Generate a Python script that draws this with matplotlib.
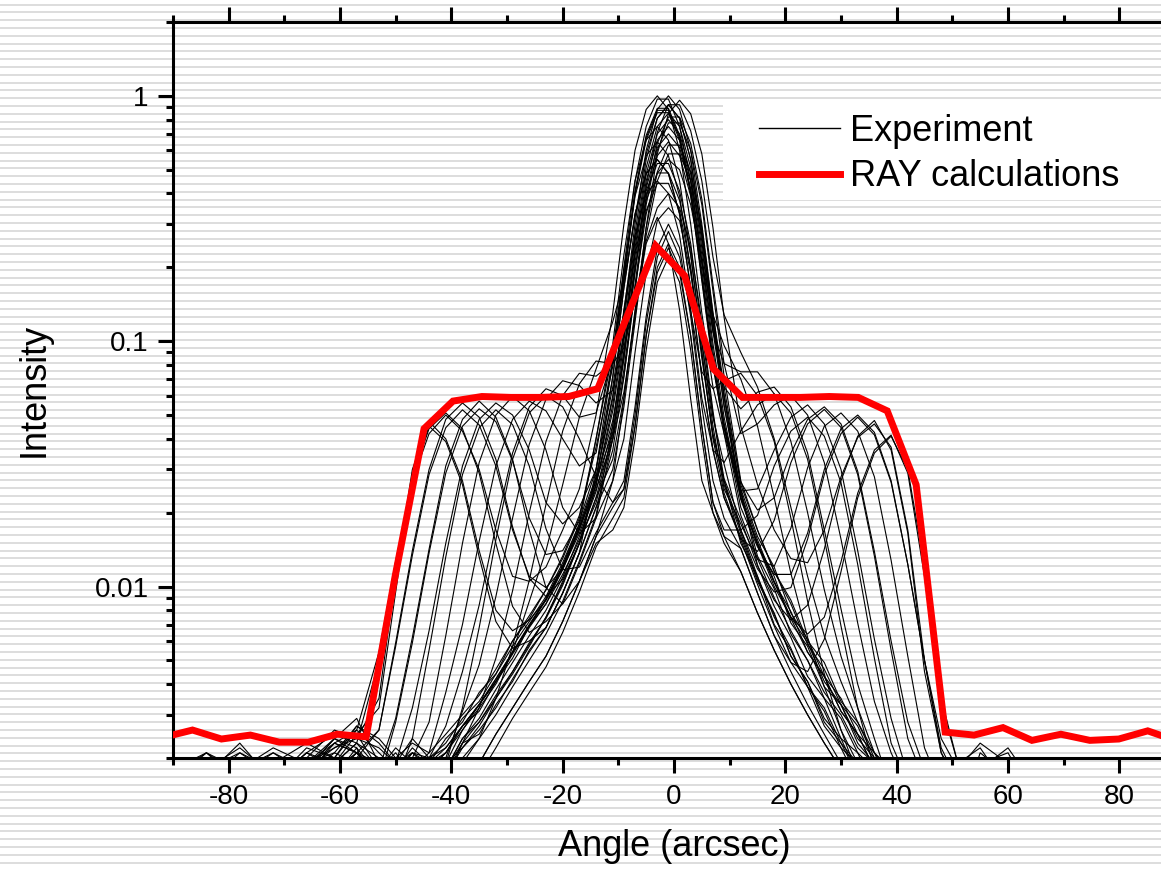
import matplotlib
matplotlib.use("Agg")
import matplotlib.pyplot as plt
import numpy as np
from matplotlib.patches import Rectangle
from matplotlib.lines import Line2D
from matplotlib.ticker import MultipleLocator, LogLocator, FuncFormatter, NullFormatter

plt.rcParams['font.family'] = 'Liberation Sans'
plt.rcParams['axes.unicode_minus'] = False

# angle grid of the measured rocking curves (arcsec)
angle = [-90, -84, -78, -72, -66, -61, -57,
         -53, -50, -47, -44, -41, -38, -35, -32, -29, -26, -23, -20, -17, -14,
         -11, -9, -7, -5, -3, -1, 1, 3, 5, 7, 9,
         12, 15, 18, 21, 24, 27, 30, 33, 36, 39, 42, 45, 48, 51,
         55, 60, 66, 75, 90]

# measured curves, side peak on the left
scan_01 = [0.0017, 0.0021, 0.0016, 0.0019, 0.0018, 0.0022, 0.0024,
           0.0035, 0.011, 0.030, 0.047, 0.040, 0.027, 0.014, 0.0080, 0.0066, 0.0073, 0.0088, 0.0117, 0.017, 0.026,
           0.055, 0.11, 0.255, 0.51, 0.75, 0.85, 0.75, 0.51, 0.255, 0.11, 0.055,
           0.023, 0.015, 0.0104, 0.0074, 0.0054, 0.0043, 0.0031, 0.0025, 0.0018, 0.0014, 0.0016, 0.0012, 0.0011, 0.0010,
           0.0010, 0.0010, 0.0010, 0.0010, 0.0010]
scan_02 = [0.0015, 0.0018, 0.0022, 0.0017, 0.0020, 0.0019, 0.0023,
           0.0050, 0.012, 0.028, 0.044, 0.051, 0.044, 0.029, 0.015, 0.0083, 0.0065, 0.0072, 0.0085, 0.0124, 0.019,
           0.040, 0.090, 0.20, 0.34, 0.44, 0.44, 0.34, 0.20, 0.090, 0.041, 0.027,
           0.017, 0.011, 0.0075, 0.0056, 0.0039, 0.0031, 0.0022, 0.0019, 0.0016, 0.0017, 0.0013, 0.0011, 0.0010, 0.0010,
           0.0010, 0.0010, 0.0010, 0.0010, 0.0010]
scan_03 = [0.0019, 0.0016, 0.0018, 0.0021, 0.0017, 0.0023, 0.0026,
           0.0054, 0.0127, 0.027, 0.042, 0.050, 0.043, 0.030, 0.017, 0.011, 0.0105, 0.012, 0.017, 0.025, 0.050,
           0.13, 0.30, 0.60, 0.88, 1.0, 0.88, 0.60, 0.30, 0.13, 0.065, 0.042,
           0.0195, 0.013, 0.0090, 0.0066, 0.0050, 0.0037, 0.0030, 0.0022, 0.0019, 0.0014, 0.0015, 0.0012, 0.0010, 0.0010,
           0.0010, 0.0010, 0.0010, 0.0010, 0.0010]
scan_04 = [0.0016, 0.0019, 0.0017, 0.0016, 0.0021, 0.0018, 0.0020,
           0.0026, 0.0059, 0.014, 0.030, 0.048, 0.056, 0.049, 0.033, 0.0175, 0.0108, 0.0091, 0.0107, 0.015, 0.023,
           0.033, 0.059, 0.13, 0.29, 0.49, 0.63, 0.63, 0.49, 0.29, 0.13, 0.059,
           0.024, 0.0133, 0.0098, 0.0064, 0.0050, 0.0035, 0.0029, 0.0021, 0.0018, 0.0014, 0.0015, 0.0011, 0.0010, 0.0010,
           0.0010, 0.0010, 0.0010, 0.0010, 0.0010]
scan_05 = [0.0014, 0.0016, 0.0015, 0.0018, 0.0016, 0.0017, 0.0019,
           0.0018, 0.0029, 0.0062, 0.0142, 0.031, 0.048, 0.057, 0.049, 0.033, 0.017, 0.0099, 0.0085, 0.0105, 0.015,
           0.017, 0.021, 0.040, 0.092, 0.174, 0.22, 0.174, 0.092, 0.040, 0.020, 0.015,
           0.0115, 0.0078, 0.0055, 0.0040, 0.0030, 0.0023, 0.0018, 0.0015, 0.0012, 0.0010, 0.0010, 0.0010, 0.0010, 0.0010,
           0.0010, 0.0010, 0.0010, 0.0010, 0.0010]
scan_06 = [0.0018, 0.0015, 0.0020, 0.0017, 0.0019, 0.0024, 0.0021,
           0.0016, 0.0028, 0.0059, 0.0137, 0.029, 0.045, 0.053, 0.047, 0.0325, 0.019, 0.0135, 0.014, 0.0185, 0.030,
           0.083, 0.184, 0.41, 0.69, 0.89, 0.89, 0.69, 0.41, 0.184, 0.083, 0.046,
           0.025, 0.016, 0.012, 0.0078, 0.0061, 0.0043, 0.0035, 0.0025, 0.0021, 0.0015, 0.0017, 0.0013, 0.0011, 0.0010,
           0.0010, 0.0010, 0.0010, 0.0010, 0.0010]
scan_07 = [0.0016, 0.0018, 0.0015, 0.0020, 0.0018, 0.0017, 0.0022,
           0.0013, 0.0019, 0.0032, 0.0066, 0.0150, 0.031, 0.048, 0.056, 0.050, 0.036, 0.022, 0.018, 0.021, 0.030,
           0.065, 0.13, 0.30, 0.60, 0.88, 1.0, 0.88, 0.60, 0.30, 0.13, 0.065,
           0.026, 0.017, 0.0115, 0.0088, 0.0060, 0.0049, 0.0034, 0.0028, 0.0020, 0.0017, 0.0013, 0.0015, 0.0011, 0.0010,
           0.0010, 0.0010, 0.0010, 0.0010, 0.0010]
scan_08 = [0.0015, 0.0017, 0.0019, 0.0016, 0.0015, 0.0020, 0.0018,
           0.0017, 0.0018, 0.0020, 0.0028, 0.0063, 0.015, 0.032, 0.050, 0.0595, 0.052, 0.036, 0.021, 0.0164, 0.019,
           0.027, 0.040, 0.090, 0.19, 0.31, 0.35, 0.31, 0.19, 0.090, 0.040, 0.024,
           0.0155, 0.0102, 0.0069, 0.0049, 0.0039, 0.0027, 0.0022, 0.0016, 0.0014, 0.0011, 0.0010, 0.0010, 0.0010, 0.0010,
           0.0010, 0.0010, 0.0010, 0.0010, 0.0010]
scan_09 = [0.0017, 0.0015, 0.0018, 0.0016, 0.0019, 0.0017, 0.0021,
           0.0016, 0.0015, 0.0018, 0.0021, 0.0037, 0.0070, 0.0153, 0.031, 0.048, 0.057, 0.052, 0.040, 0.031, 0.035,
           0.085, 0.195, 0.39, 0.57, 0.65, 0.57, 0.39, 0.195, 0.085, 0.042, 0.027,
           0.015, 0.011, 0.0070, 0.0055, 0.0039, 0.0032, 0.0023, 0.0019, 0.0014, 0.0016, 0.0012, 0.0010, 0.0010, 0.0010,
           0.0010, 0.0010, 0.0010, 0.0010, 0.0010]
scan_10 = [0.0014, 0.0016, 0.0015, 0.0014, 0.0017, 0.0016, 0.0015,
           0.0014, 0.0015, 0.0016, 0.0017, 0.0019, 0.0032, 0.0068, 0.0155, 0.033, 0.051, 0.060, 0.054, 0.040, 0.028,
           0.022, 0.025, 0.045, 0.105, 0.20, 0.25, 0.20, 0.105, 0.045, 0.022, 0.016,
           0.0115, 0.0078, 0.0055, 0.0040, 0.0030, 0.0023, 0.0018, 0.0014, 0.0012, 0.0010, 0.0010, 0.0010, 0.0010, 0.0010,
           0.0010, 0.0010, 0.0010, 0.0010, 0.0010]
scan_11 = [0.0015, 0.0014, 0.0017, 0.0016, 0.0014, 0.0018, 0.0017,
           0.0015, 0.0013, 0.0016, 0.0018, 0.0020, 0.0031, 0.0048, 0.0091, 0.019, 0.038, 0.058, 0.069, 0.066, 0.056,
           0.063, 0.105, 0.229, 0.45, 0.66, 0.75, 0.66, 0.45, 0.225, 0.0975, 0.049,
           0.0226, 0.0148, 0.011, 0.0071, 0.0057, 0.0039, 0.0033, 0.0023, 0.0019, 0.0014, 0.0012, 0.0013, 0.0010, 0.0010,
           0.0010, 0.0010, 0.0010, 0.0010, 0.0010]
scan_12 = [0.0014, 0.0015, 0.0014, 0.0016, 0.0015, 0.0014, 0.0016,
           0.0013, 0.0014, 0.0013, 0.0015, 0.0016, 0.0023, 0.0032, 0.0051, 0.0096, 0.020, 0.039, 0.060, 0.074, 0.072,
           0.082, 0.13, 0.26, 0.41, 0.53, 0.53, 0.41, 0.25, 0.11, 0.050, 0.0275,
           0.0187, 0.0122, 0.0083, 0.0062, 0.0043, 0.0035, 0.0024, 0.0021, 0.0015, 0.0012, 0.0011, 0.0010, 0.0010, 0.0010,
           0.0010, 0.0010, 0.0010, 0.0010, 0.0010]
scan_13 = [0.0013, 0.0014, 0.0013, 0.0015, 0.0014, 0.0013, 0.0015,
           0.0012, 0.0013, 0.0012, 0.0014, 0.0015, 0.0019, 0.0024, 0.0035, 0.0057, 0.0106, 0.0216, 0.043, 0.067, 0.083,
           0.081, 0.094, 0.147, 0.256, 0.35, 0.40, 0.35, 0.24, 0.12, 0.052, 0.026,
           0.0165, 0.0107, 0.0078, 0.0052, 0.0041, 0.0028, 0.0023, 0.0017, 0.0013, 0.0011, 0.0010, 0.0010, 0.0010, 0.0010,
           0.0010, 0.0010, 0.0010, 0.0010, 0.0010]
scan_14 = [0.0019, 0.0017, 0.0023, 0.0016, 0.0021, 0.0019, 0.0025,
           0.0032, 0.0095, 0.028, 0.045, 0.039, 0.026, 0.0132, 0.0072, 0.0056, 0.0060, 0.0068, 0.0094, 0.0137, 0.030,
           0.0715, 0.165, 0.33, 0.48, 0.55, 0.48, 0.33, 0.165, 0.0715, 0.036, 0.023,
           0.016, 0.0105, 0.0077, 0.0052, 0.0041, 0.0029, 0.0024, 0.0017, 0.0014, 0.0015, 0.0011, 0.0010, 0.0010, 0.0010,
           0.0010, 0.0010, 0.0010, 0.0010, 0.0010]
scan_15 = [0.0016, 0.0014, 0.0017, 0.0015, 0.0016, 0.0018, 0.0017,
           0.0012, 0.0013, 0.0014, 0.0016, 0.0019, 0.0026, 0.0032, 0.0040, 0.0054, 0.0087, 0.014, 0.026, 0.049, 0.077,
           0.12, 0.176, 0.32, 0.58, 0.81, 0.92, 0.81, 0.55, 0.276, 0.12, 0.060,
           0.023, 0.015, 0.0104, 0.0079, 0.0054, 0.0043, 0.0031, 0.0025, 0.0018, 0.0014, 0.0016, 0.0012, 0.0011, 0.0010,
           0.0010, 0.0010, 0.0010, 0.0010, 0.0010]
scan_30 = [0.0017, 0.0015, 0.0018, 0.0016, 0.0019, 0.0017, 0.0021,
           0.0026, 0.0057, 0.0134, 0.0286, 0.0444, 0.0525, 0.0456, 0.031, 0.017, 0.011, 0.0099, 0.0118, 0.0165, 0.025,
           0.040, 0.072, 0.16, 0.36, 0.60, 0.776, 0.776, 0.60, 0.36, 0.16, 0.072,
           0.027, 0.017, 0.0115, 0.0085, 0.0058, 0.0046, 0.0033, 0.0027, 0.0019, 0.0015, 0.0017, 0.0013, 0.0011, 0.0010,
           0.0010, 0.0010, 0.0010, 0.0010, 0.0010]
scan_31 = [0.0018, 0.0016, 0.0015, 0.0019, 0.0017, 0.0020, 0.0018,
           0.0015, 0.0014, 0.0016, 0.0020, 0.0027, 0.0045, 0.0084, 0.0176, 0.035, 0.054, 0.064, 0.060, 0.049, 0.051,
           0.086, 0.18, 0.405, 0.675, 0.873, 0.873, 0.675, 0.405, 0.18, 0.081, 0.045,
           0.024, 0.0155, 0.0105, 0.0075, 0.0059, 0.0041, 0.0033, 0.0024, 0.0020, 0.0016, 0.0013, 0.0012, 0.0010, 0.0010,
           0.0010, 0.0010, 0.0010, 0.0010, 0.0010]
scan_35 = [0.0013, 0.0015, 0.0014, 0.0016, 0.0015, 0.0014, 0.0016,
           0.0015, 0.0016, 0.0024, 0.0055, 0.0132, 0.0286, 0.0444, 0.0525, 0.0457, 0.031, 0.0172, 0.0117, 0.012, 0.0166,
           0.022, 0.027, 0.054, 0.126, 0.24, 0.30, 0.24, 0.126, 0.054, 0.027, 0.019,
           0.0143, 0.0094, 0.0063, 0.0045, 0.0033, 0.0025, 0.0019, 0.0014, 0.0011, 0.0010, 0.0010, 0.0010, 0.0010, 0.0010,
           0.0010, 0.0010, 0.0010, 0.0010, 0.0010]

# measured curves, side peak on the right
scan_16 = [0.0016, 0.0019, 0.0017, 0.0021, 0.0018, 0.0024, 0.0022,
           0.0017, 0.0019, 0.0016, 0.0018, 0.0017, 0.0023, 0.0025, 0.0033, 0.0041, 0.0055, 0.0068, 0.0094, 0.0137, 0.021,
           0.036, 0.0715, 0.165, 0.33, 0.484, 0.55, 0.50, 0.36, 0.21, 0.128, 0.096,
           0.070, 0.045, 0.023, 0.0113, 0.0062, 0.0039, 0.0026, 0.0019, 0.0016, 0.0014, 0.0012, 0.0011, 0.0010, 0.0010,
           0.0010, 0.0010, 0.0010, 0.0010, 0.0010]
scan_17 = [0.0014, 0.0016, 0.0015, 0.0017, 0.0016, 0.0018, 0.0017,
           0.0012, 0.0013, 0.0012, 0.0014, 0.0013, 0.0016, 0.0019, 0.0025, 0.0032, 0.0041, 0.0052, 0.0072, 0.0105, 0.016,
           0.021, 0.025, 0.050, 0.118, 0.22, 0.28, 0.22, 0.132, 0.075, 0.064, 0.069,
           0.074, 0.060, 0.039, 0.019, 0.0087, 0.0044, 0.0026, 0.0017, 0.0015, 0.0012, 0.0010, 0.0010, 0.0010, 0.0010,
           0.0010, 0.0010, 0.0010, 0.0010, 0.0010]
scan_18 = [0.0017, 0.0015, 0.0019, 0.0016, 0.0022, 0.0020, 0.0026,
           0.0021, 0.0018, 0.0022, 0.0019, 0.0024, 0.0028, 0.0037, 0.0044, 0.0060, 0.0074, 0.0097, 0.013, 0.019, 0.040,
           0.090, 0.20, 0.45, 0.75, 0.97, 0.97, 0.75, 0.45, 0.21, 0.109, 0.081,
           0.075, 0.075, 0.061, 0.039, 0.020, 0.0097, 0.0052, 0.0032, 0.0021, 0.0018, 0.0014, 0.0012, 0.0010, 0.0010,
           0.0010, 0.0010, 0.0010, 0.0010, 0.0010]
scan_19 = [0.0018, 0.0016, 0.0015, 0.0019, 0.0017, 0.0021, 0.0019,
           0.0016, 0.0015, 0.0017, 0.0016, 0.0019, 0.0022, 0.0027, 0.0035, 0.0044, 0.0057, 0.0075, 0.0105, 0.015, 0.028,
           0.0585, 0.135, 0.27, 0.40, 0.45, 0.40, 0.27, 0.135, 0.0585, 0.036, 0.032,
           0.043, 0.055, 0.061, 0.051, 0.033, 0.0157, 0.0069, 0.0032, 0.0018, 0.0014, 0.0011, 0.0010, 0.0010, 0.0010,
           0.0010, 0.0010, 0.0010, 0.0010, 0.0010]
scan_20 = [0.0016, 0.0021, 0.0018, 0.0016, 0.0019, 0.0023, 0.0021,
           0.0019, 0.0017, 0.0021, 0.0018, 0.0021, 0.0026, 0.0033, 0.0041, 0.0054, 0.0069, 0.0088, 0.012, 0.0175, 0.027,
           0.0425, 0.0765, 0.17, 0.38, 0.64, 0.82, 0.82, 0.64, 0.38, 0.17, 0.081,
           0.042, 0.046, 0.055, 0.060, 0.050, 0.032, 0.0156, 0.0071, 0.0034, 0.0021, 0.0015, 0.0013, 0.0011, 0.0010,
           0.0010, 0.0010, 0.0010, 0.0010, 0.0010]
scan_21 = [0.0015, 0.0017, 0.0020, 0.0017, 0.0015, 0.0019, 0.0023,
           0.0018, 0.0016, 0.0019, 0.0017, 0.0018, 0.0024, 0.0028, 0.0036, 0.0045, 0.0059, 0.0074, 0.0101, 0.015, 0.023,
           0.042, 0.0845, 0.195, 0.39, 0.57, 0.65, 0.57, 0.39, 0.195, 0.0845, 0.042,
           0.0245, 0.025, 0.036, 0.049, 0.055, 0.046, 0.030, 0.014, 0.0061, 0.0029, 0.0017, 0.0015, 0.0012, 0.0010,
           0.0010, 0.0010, 0.0010, 0.0010, 0.0010]
scan_22 = [0.0013, 0.0014, 0.0015, 0.0014, 0.0016, 0.0015, 0.0017,
           0.0013, 0.0014, 0.0012, 0.0013, 0.0012, 0.0015, 0.0017, 0.0022, 0.0029, 0.0037, 0.0047, 0.0065, 0.0095, 0.0145,
           0.019, 0.023, 0.045, 0.105, 0.19, 0.24, 0.19, 0.105, 0.045, 0.022, 0.017,
           0.017, 0.0195, 0.031, 0.043, 0.049, 0.041, 0.0265, 0.0123, 0.0051, 0.0023, 0.0016, 0.0013, 0.0011, 0.0010,
           0.0010, 0.0010, 0.0010, 0.0010, 0.0010]
scan_23 = [0.0017, 0.0015, 0.0018, 0.0022, 0.0019, 0.0021, 0.0027,
           0.0023, 0.0019, 0.0024, 0.0020, 0.0023, 0.0029, 0.0034, 0.0044, 0.0057, 0.0072, 0.0091, 0.0125, 0.018, 0.028,
           0.060, 0.12, 0.276, 0.55, 0.81, 0.92, 0.81, 0.55, 0.276, 0.12, 0.060,
           0.0266, 0.0205, 0.023, 0.035, 0.048, 0.054, 0.046, 0.0295, 0.0139, 0.0060, 0.0028, 0.0018, 0.0013, 0.0011,
           0.0021, 0.0017, 0.0012, 0.0010, 0.0010]
scan_24 = [0.0015, 0.0018, 0.0016, 0.0015, 0.0018, 0.0017, 0.0020,
           0.0016, 0.0014, 0.0016, 0.0015, 0.0016, 0.0020, 0.0024, 0.0030, 0.0039, 0.0050, 0.0064, 0.0087, 0.0127, 0.0195,
           0.045, 0.10, 0.225, 0.375, 0.485, 0.485, 0.375, 0.225, 0.10, 0.045, 0.025,
           0.018, 0.0129, 0.0121, 0.0173, 0.0305, 0.045, 0.051, 0.043, 0.028, 0.0128, 0.0052, 0.0022, 0.0015, 0.0012,
           0.0010, 0.0010, 0.0010, 0.0010, 0.0010]
scan_25 = [0.0018, 0.0020, 0.0017, 0.0016, 0.0021, 0.0025, 0.0023,
           0.0020, 0.0018, 0.0021, 0.0019, 0.0022, 0.0027, 0.0033, 0.0042, 0.0054, 0.0069, 0.0089, 0.0122, 0.018, 0.040,
           0.0975, 0.225, 0.45, 0.66, 0.75, 0.66, 0.45, 0.225, 0.0975, 0.049, 0.0315,
           0.017, 0.0118, 0.0095, 0.0099, 0.0156, 0.0286, 0.042, 0.049, 0.0415, 0.0266, 0.0123, 0.0050, 0.0022, 0.0016,
           0.0018, 0.0022, 0.0014, 0.0010, 0.0010]
scan_26 = [0.0016, 0.0014, 0.0017, 0.0019, 0.0016, 0.0018, 0.0021,
           0.0017, 0.0015, 0.0018, 0.0016, 0.0017, 0.0022, 0.0026, 0.0032, 0.0042, 0.0054, 0.0068, 0.0094, 0.0137, 0.021,
           0.030, 0.054, 0.12, 0.27, 0.45, 0.58, 0.58, 0.45, 0.27, 0.12, 0.054,
           0.025, 0.0122, 0.0088, 0.0073, 0.0084, 0.0142, 0.027, 0.041, 0.0475, 0.036, 0.0165, 0.0045, 0.0021, 0.0016,
           0.0019, 0.0021, 0.0012, 0.0010, 0.0010]
scan_27 = [0.0019, 0.0016, 0.0021, 0.0018, 0.0020, 0.0026, 0.0024,
           0.0022, 0.0019, 0.0021, 0.0020, 0.0022, 0.0027, 0.0033, 0.0041, 0.0053, 0.0068, 0.0085, 0.0112, 0.0155, 0.022,
           0.040, 0.062, 0.125, 0.29, 0.58, 0.845, 0.96, 0.845, 0.58, 0.29, 0.125,
           0.045, 0.026, 0.017, 0.013, 0.0125, 0.017, 0.028, 0.0405, 0.046, 0.037, 0.017, 0.0050, 0.0024, 0.0018,
           0.0023, 0.0019, 0.0013, 0.0010, 0.0010]
scan_28 = [0.0013, 0.0015, 0.0014, 0.0013, 0.0015, 0.0016, 0.0018,
           0.0014, 0.0015, 0.0013, 0.0014, 0.0013, 0.0016, 0.0019, 0.0025, 0.0032, 0.0041, 0.0052, 0.0072, 0.0105, 0.016,
           0.027, 0.058, 0.134, 0.25, 0.32, 0.25, 0.134, 0.058, 0.027, 0.020, 0.016,
           0.0143, 0.0094, 0.0063, 0.0049, 0.0045, 0.0061, 0.0115, 0.023, 0.035, 0.041, 0.030, 0.012, 0.0035, 0.0019,
           0.0014, 0.0012, 0.0010, 0.0010, 0.0010]
scan_29 = [0.0019, 0.0017, 0.0020, 0.0017, 0.0018, 0.0024, 0.0029,
           0.0019, 0.0017, 0.0020, 0.0017, 0.0018, 0.0024, 0.0029, 0.0038, 0.0049, 0.0063, 0.0080, 0.0109, 0.016, 0.0244,
           0.0455, 0.091, 0.21, 0.42, 0.616, 0.70, 0.616, 0.42, 0.21, 0.091, 0.0455,
           0.021, 0.0145, 0.0112, 0.0112, 0.0165, 0.030, 0.044, 0.050, 0.0425, 0.027, 0.0123, 0.0050, 0.0021, 0.0015,
           0.0012, 0.0011, 0.0010, 0.0010, 0.0010]
scan_32 = [0.0016, 0.0018, 0.0021, 0.0017, 0.0019, 0.0022, 0.0025,
           0.0018, 0.0021, 0.0017, 0.0019, 0.0021, 0.0027, 0.0031, 0.0041, 0.0051, 0.0069, 0.0085, 0.0118, 0.0172, 0.026,
           0.052, 0.104, 0.24, 0.48, 0.70, 0.80, 0.70, 0.48, 0.24, 0.111, 0.065,
           0.053, 0.062, 0.065, 0.054, 0.035, 0.017, 0.0081, 0.0040, 0.0024, 0.0015, 0.0016, 0.0012, 0.0011, 0.0010,
           0.0010, 0.0010, 0.0010, 0.0010, 0.0010]
scan_33 = [0.0014, 0.0016, 0.0017, 0.0015, 0.0016, 0.0019, 0.0018,
           0.0016, 0.0015, 0.0017, 0.0016, 0.0018, 0.0023, 0.0028, 0.0035, 0.0045, 0.0058, 0.0075, 0.0103, 0.015, 0.026,
           0.0715, 0.165, 0.33, 0.484, 0.55, 0.484, 0.33, 0.165, 0.0715, 0.036, 0.023,
           0.0156, 0.0139, 0.0186, 0.032, 0.046, 0.0527, 0.0445, 0.0286, 0.0133, 0.0055, 0.0024, 0.0016, 0.0012, 0.0010,
           0.0016, 0.0012, 0.0010, 0.0010, 0.0010]
scan_34 = [0.0019, 0.0017, 0.0016, 0.0020, 0.0018, 0.0023, 0.0021,
           0.0018, 0.0022, 0.0019, 0.0018, 0.0021, 0.0027, 0.0033, 0.0042, 0.0054, 0.0070, 0.0089, 0.012, 0.0175, 0.027,
           0.0475, 0.0855, 0.19, 0.43, 0.71, 0.92, 0.92, 0.72, 0.45, 0.22, 0.128,
           0.090, 0.065, 0.040, 0.021, 0.011, 0.0063, 0.0041, 0.0028, 0.0021, 0.0017, 0.0014, 0.0015, 0.0011, 0.0010,
           0.0010, 0.0010, 0.0010, 0.0010, 0.0010]
scan_36 = [0.0018, 0.0021, 0.0017, 0.0019, 0.0023, 0.0020, 0.0027,
           0.0024, 0.0020, 0.0023, 0.0021, 0.0025, 0.0030, 0.0036, 0.0046, 0.0060, 0.0076, 0.0097, 0.0133, 0.0195, 0.037,
           0.079, 0.176, 0.396, 0.66, 0.854, 0.854, 0.66, 0.396, 0.176, 0.079, 0.044,
           0.023, 0.0148, 0.010, 0.0075, 0.0064, 0.0075, 0.0126, 0.024, 0.036, 0.0414, 0.029, 0.011, 0.0033, 0.0019,
           0.0022, 0.0015, 0.0011, 0.0010, 0.0010]

# RAY simulation
ray_angle = [-91.7, -86.5, -81.3, -76.1, -70.9, -65.7, -60.5, -55.3, -50.1, -44.9,
             -39.7, -34.5, -29.3, -24.1, -18.9, -13.7, -8.5, -3.3, 1.9, 7.1,
             12.3, 17.5, 22.7, 27.9, 33.1, 38.3, 43.5, 48.7, 53.9, 59.1,
             64.3, 69.5, 74.7, 79.9, 85.1, 90.3]
ray_intensity = [0.00243, 0.0026, 0.00239, 0.00248, 0.00232, 0.00232, 0.0025, 0.00244, 0.011, 0.044,
                 0.057, 0.0595, 0.059, 0.059, 0.0595, 0.064, 0.125, 0.245, 0.185, 0.077,
                 0.059, 0.059, 0.059, 0.0595, 0.059, 0.052, 0.026, 0.00255, 0.00248, 0.00266,
                 0.00236, 0.0025, 0.00236, 0.00239, 0.00258, 0.00235]

scans = [scan_01, scan_02, scan_03, scan_04, scan_05, scan_06, scan_07, scan_08,
         scan_09, scan_10, scan_11, scan_12, scan_13, scan_14, scan_15, scan_30,
         scan_31, scan_35, scan_16, scan_17, scan_18, scan_19, scan_20, scan_21,
         scan_22, scan_23, scan_24, scan_25, scan_26, scan_27, scan_28, scan_29,
         scan_32, scan_33, scan_34, scan_36]

W, H = 1161, 869
fig = plt.figure(figsize=(W / 100, H / 100), dpi=100)

# striped slide background
bg = fig.add_axes([0, 0, 1, 1], zorder=-10)
bg.set_xlim(0, W)
bg.set_ylim(H, 0)
bg.axis('off')
bg.hlines(np.arange(4.5, H, 7.8), 0, W, color='#dadada', lw=1.3)

ax = fig.add_axes([173 / W, 1 - 758 / H, 1002 / W, 736 / H])
ax.set_facecolor('none')

for s in scans:
    ax.plot(angle, s, color='black', lw=0.8, zorder=2)
ax.plot(ray_angle, ray_intensity, color='#ff0000', lw=5, zorder=3,
        solid_joinstyle='miter')

ax.set_yscale('log')
ax.set_xlim(-90, 90)
ax.set_ylim(0.002, 2)

ax.xaxis.set_major_locator(MultipleLocator(20))
ax.xaxis.set_minor_locator(MultipleLocator(10))
ax.yaxis.set_major_locator(LogLocator(base=10))
ax.yaxis.set_minor_locator(LogLocator(base=10, subs=np.arange(2, 10)))
ax.yaxis.set_major_formatter(FuncFormatter(lambda v, p: f'{v:g}'))
ax.yaxis.set_minor_formatter(NullFormatter())

for sp in ax.spines.values():
    sp.set_linewidth(2.2)
ax.tick_params(which='both', direction='out', top=True, right=True, width=2.2,
               labelsize=20, colors='black')
ax.tick_params(which='major', length=10.5)
ax.tick_params(which='minor', length=5.3)
ax.tick_params(axis='x', pad=8)
ax.tick_params(axis='y', pad=7)

ax.set_xlabel('Angle (arcsec)', fontsize=26)
ax.set_ylabel('Intensity', fontsize=26)
ax.xaxis.set_label_coords(0.5, -0.096)
ax.yaxis.set_label_coords(-0.121, 0.5)

# white legend panel
ax.add_patch(Rectangle((723 / W, 1 - 200 / H), 0.5, 101 / H, transform=fig.transFigure,
                       facecolor='white', edgecolor='none', zorder=4, clip_on=False))
handles = [Line2D([], [], color='black', lw=1.0),
           Line2D([], [], color='#ff0000', lw=5)]
leg = ax.legend(handles, ['Experiment', 'RAY calculations'], loc='upper left',
                bbox_to_anchor=(759 / W, 1 - 114 / H), bbox_transform=fig.transFigure,
                frameon=False, borderpad=0, borderaxespad=0, handlelength=2.25,
                handletextpad=0.26, labelspacing=0.29, fontsize=26)
leg.set_zorder(5)

fig.savefig('out.png', dpi=100)
